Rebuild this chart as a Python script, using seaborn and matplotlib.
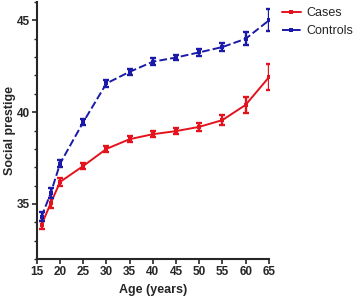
import matplotlib
matplotlib.use("Agg")
import matplotlib.pyplot as plt
from matplotlib.ticker import MultipleLocator
import seaborn as sns
import pandas as pd

ages = [16, 18, 20, 25, 30, 35, 40, 45, 50, 55, 60, 65]
cases = [33.86, 35.05, 36.2, 37.07, 38.0, 38.53, 38.8, 38.97, 39.2, 39.57, 40.4, 41.9]
cases_err = [0.2, 0.25, 0.2, 0.15, 0.17, 0.15, 0.17, 0.17, 0.22, 0.25, 0.42, 0.7]
controls = [34.3, 35.6, 37.2, 39.46, 41.57, 42.2, 42.75, 42.98, 43.26, 43.55, 44.0, 45.0]
controls_err = [0.25, 0.25, 0.18, 0.18, 0.2, 0.17, 0.2, 0.15, 0.2, 0.22, 0.35, 0.6]
series_names = ["Cases", "Controls"]
colors = ["#e4121c", "#1a1aa8"]
y_ticks = [35, 40, 45]
x_ticks = [15, 20, 25, 30, 35, 40, 45, 50, 55, 60, 65]

sns.set_style("ticks")
plt.rcParams["font.family"] = ["Liberation Sans", "DejaVu Sans"]

df = pd.DataFrame({
    "Age": ages * 2,
    "Value": cases + controls,
    "Err": cases_err + controls_err,
    "Group": [series_names[0]] * len(ages) + [series_names[1]] * len(ages),
})

fig = plt.figure(figsize=(3.58, 2.96), dpi=100)
ax = fig.add_axes([0.103, 0.125, 0.648, 0.868])

sns.lineplot(data=df, x="Age", y="Value", hue="Group", style="Group",
             palette=colors, dashes=[(None, None), (4, 1.6)],
             markers=["s", "s"], markersize=3.5, markeredgewidth=0,
             linewidth=1.4, ax=ax, legend=True)

for name, col in zip(series_names, colors):
    sub = df[df["Group"] == name]
    ax.errorbar(sub["Age"], sub["Value"], yerr=sub["Err"], fmt="none",
                ecolor=col, elinewidth=1.7, capsize=2.5, capthick=1.7)

ax.set_xlim(15, 65)
ax.set_ylim(32, 46)
ax.set_xticks(x_ticks)
ax.set_yticks(y_ticks)
ax.yaxis.set_minor_locator(MultipleLocator(1))
ax.tick_params(axis="both", which="major", length=3.5, width=1.2, labelsize=8.5, pad=1.5)
ax.tick_params(axis="y", which="minor", length=2.5, width=1.0)
for lab in ax.get_xticklabels() + ax.get_yticklabels():
    lab.set_fontweight("bold")
for sp in ["left", "bottom"]:
    ax.spines[sp].set_linewidth(1.5)
sns.despine(ax=ax)

ax.set_xlabel("Age (years)", fontsize=9, fontweight="bold", labelpad=4)
ax.set_ylabel("Social prestige", fontsize=9, fontweight="bold", labelpad=4)
ax.yaxis.set_label_coords(-0.092, 0.5)

leg = ax.legend(loc="upper left", bbox_to_anchor=(0.775, 0.99),
                bbox_transform=fig.transFigure, frameon=False, fontsize=9,
                handlelength=1.5, handletextpad=0.5, labelspacing=0.45,
                borderaxespad=0.15, borderpad=0.2)

fig.savefig("out.png", dpi=100)
